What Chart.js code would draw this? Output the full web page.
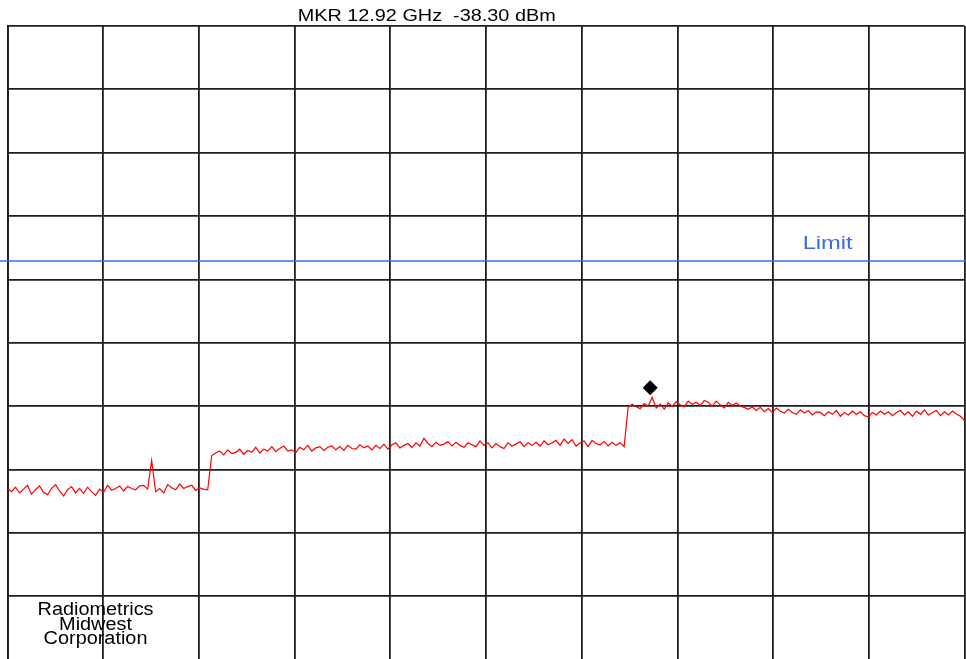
<!DOCTYPE html>
<html>
<head>
<meta charset="utf-8">
<script src="https://cdn.jsdelivr.net/npm/chart.js@4/dist/chart.umd.min.js"></script>
<style>
  html, body { margin: 0; padding: 0; background: #fff; overflow: hidden; }
  #wrap { width: 966px; height: 659px; overflow: hidden; }
</style>
</head>
<body>
<div id="wrap"><canvas id="spec" width="972" height="667"></canvas></div>
<script>
// sweep settings (GHz) and display reference
const freqStart = 1.0;
const freqStop = 18.75;
const refLevel = 0;       // dBm at top line
const dbPerDiv = 10;
const divisions = 10;

const markerFreq = 12.92;
const markerLevel = -57.1;
const markerText = 'MKR 12.92 GHz  -38.30 dBm';
const limitLevel = -37.1;
const limitLabel = 'Limit';
const footerLines = ['Radiometrics', 'Midwest', 'Corporation'];

// trace (dBm)
const traceLow = [
  -73.0,-73.5,-72.8,-73.7,-73.1,-72.5,-73.9,-73.2,-72.6,-73.6,
  -74.0,-73.0,-72.4,-73.4,-74.2,-73.2,-72.7,-73.7,-73.0,-73.8,
  -72.8,-73.5,-74.1,-73.1,-73.6,-72.5,-73.3,-73.0,-72.6,-73.4,
  -72.7,-73.0,-73.2,-72.6,-72.5,-73.1,-68.6,-73.5,-73.0,-73.7,
  -72.4,-72.9,-73.2,-72.3,-73.0,-72.7,-72.5,-73.3,-72.9,-73.1,-73.2
];
const traceMid = [
  -67.8,-67.4,-67.1,-67.7,-66.9,-67.5,-67.3,-66.8,-67.6,-67.0,
  -67.3,-66.5,-67.4,-66.8,-67.1,-66.4,-67.2,-66.7,-66.3,-67.1,
  -66.9,-67.3,-66.5,-66.9,-66.2,-67.1,-66.6,-66.4,-67.0,-66.5,
  -66.3,-66.9,-66.4,-67.0,-66.2,-66.7,-66.8,-66.1,-66.6,-66.3,
  -66.9,-66.2,-66.7,-66.0,-66.8,-66.1,-65.8,-66.6,-66.2,-65.9,
  -66.5,-65.8,-66.3,-65.1,-65.9,-66.4,-65.7,-66.2,-66.0,-65.6,
  -66.3,-65.7,-66.2,-66.5,-65.8,-66.1,-66.4,-65.5,-66.2,-65.8,
  -66.6,-65.9,-66.4,-66.7,-65.8,-66.3,-66.0,-65.6,-66.4,-65.8,
  -66.2,-65.7,-66.3,-65.5,-66.1,-65.8,-65.4,-66.2,-65.2,-65.9,
  -65.3,-66.3,-65.8,-65.5,-66.4,-65.4,-65.9,-66.1,-65.6,-66.3,
  -65.7,-66.2,-65.8,-66.4
];
const traceHigh = [
  -60.2,-59.7,-60.1,-60.4,-59.6,-60.0,-58.6,-60.3,-59.7,-60.5,
  -59.5,-60.0,-59.3,-59.8,-60.1,-59.2,-59.7,-59.4,-59.9,-59.1,
  -59.4,-60.0,-59.2,-59.8,-60.3,-59.4,-59.9,-59.5,-60.0,-60.2,
  -60.5,-60.1,-60.7,-60.2,-60.9,-60.4,-61.0,-60.3,-60.8,-61.1,
  -60.5,-61.0,-61.3,-60.6,-61.1,-60.7,-61.4,-60.9,-61.0,-61.5,
  -60.9,-61.3,-60.7,-61.6,-61.0,-61.4,-60.8,-61.3,-60.9,-61.5,
  -61.7,-61.0,-61.4,-60.8,-61.3,-60.9,-61.5,-61.0,-60.7,-61.4,
  -60.9,-61.6,-60.8,-61.3,-60.6,-61.4,-61.0,-60.7,-61.5,-60.9,
  -61.4,-60.8,-61.3,-61.6,-62.3
];

const trace = traceLow.concat(traceMid, traceHigh);
const freqs = trace.map((v, i) => freqStart + i * (freqStop - freqStart) / (trace.length - 1));

const gridColor = '#1e1e1e';
const limitColor = '#3a6ae8';

// text in the reference is drawn a bit wide, so stretch it to the measured width
function wideText(ctx, text, cx, baseline, sx) {
  ctx.save();
  ctx.translate(cx, baseline);
  ctx.scale(sx, 1);
  ctx.fillText(text, 0, 0);
  ctx.restore();
}

// limit line across the whole screen, plus the text annotations
const annotations = {
  id: 'annotations',
  afterDatasetsDraw(chart) {
    const { ctx, chartArea, scales } = chart;
    const yl = scales.y.getPixelForValue(limitLevel);
    ctx.save();
    ctx.strokeStyle = limitColor;
    ctx.lineWidth = 1.6;
    ctx.beginPath();
    ctx.moveTo(0, yl);
    ctx.lineTo(chart.width, yl);
    ctx.stroke();

    ctx.textAlign = 'center';
    ctx.textBaseline = 'alphabetic';

    ctx.fillStyle = limitColor;
    ctx.font = '19px "Liberation Sans", Arial, sans-serif';
    let sx = 50 / ctx.measureText(limitLabel).width;
    wideText(ctx, limitLabel, chartArea.left + chartArea.width * 0.857, yl - 12, sx);

    ctx.fillStyle = '#000';
    ctx.font = '17px "Liberation Sans", Arial, sans-serif';
    sx = 258 / ctx.measureText(markerText).width;
    wideText(ctx, markerText, chartArea.left + chartArea.width * 0.438, 21, sx);

    ctx.font = '18px "Liberation Sans", Arial, sans-serif';
    sx = 116 / ctx.measureText(footerLines[0]).width;
    footerLines.forEach((t, i) => {
      wideText(ctx, t, chartArea.left + chartArea.width * 0.092, 615 + i * 14.5, sx);
    });
    ctx.restore();
  }
};

new Chart(document.getElementById('spec'), {
  type: 'line',
  data: {
    labels: freqs,
    datasets: [
      {
        type: 'scatter',
        data: [{ x: markerFreq, y: markerLevel }],
        pointStyle: 'rectRot',
        pointRadius: 7.5,
        backgroundColor: '#000',
        borderColor: '#000',
        borderWidth: 0,
        order: 0
      },
      {
        data: trace,
        borderColor: '#ff0000',
        borderWidth: 1.2,
        pointRadius: 0,
        tension: 0,
        fill: false,
        order: 1
      }
    ]
  },
  options: {
    responsive: false,
    animation: false,
    events: [],
    layout: { padding: { left: 7, top: 26, right: 0, bottom: 0 } },
    plugins: { legend: { display: false }, tooltip: { enabled: false }, title: { display: false } },
    scales: {
      x: {
        type: 'linear',
        min: freqStart,
        max: freqStop,
        afterBuildTicks(scale) {
          const step = (freqStop - freqStart) / divisions;
          scale.ticks = Array.from({ length: divisions + 1 }, (_, i) => ({ value: freqStart + i * step }));
        },
        ticks: { display: false },
        grid: { color: gridColor, lineWidth: 1.8, drawTicks: false },
        border: { color: gridColor, width: 1.8 }
      },
      y: {
        min: refLevel - dbPerDiv * divisions,
        max: refLevel,
        ticks: { display: false, stepSize: dbPerDiv },
        grid: { color: gridColor, lineWidth: 1.8, drawTicks: false },
        border: { color: gridColor, width: 1.8 }
      }
    }
  },
  plugins: [annotations]
});
</script>
</body>
</html>
